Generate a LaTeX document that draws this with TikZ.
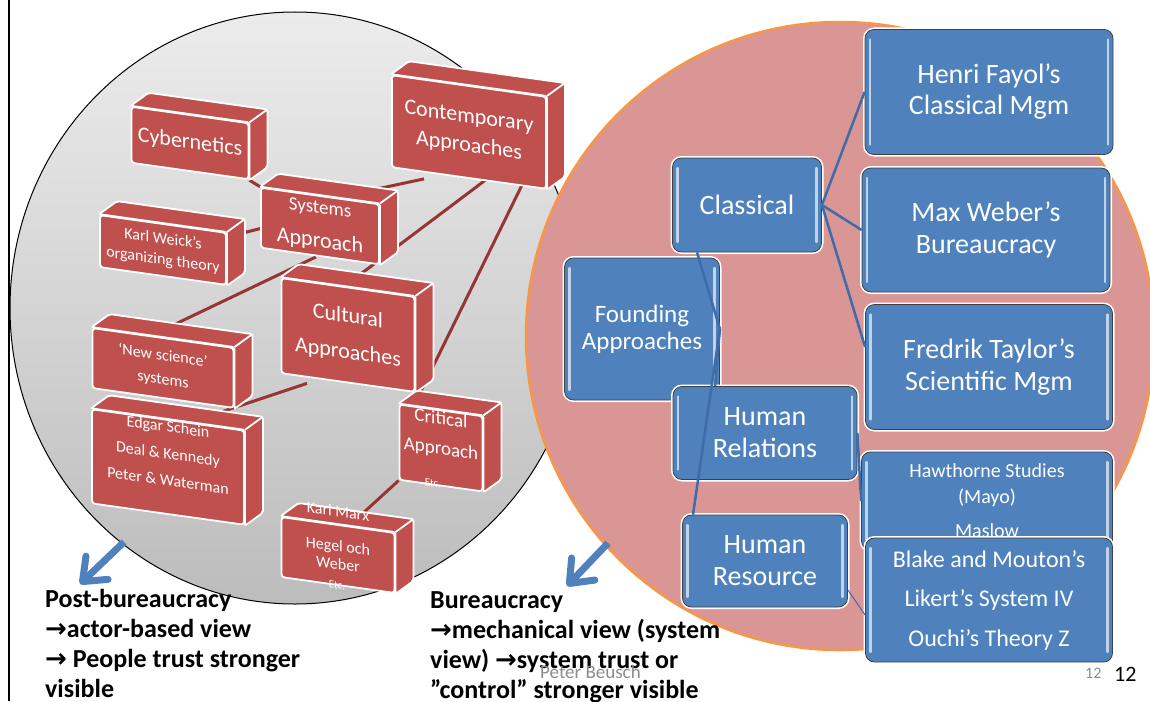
\documentclass[tikz,border=0pt]{standalone}
\usepackage{fontspec}
\setmainfont{Carlito}
\newfontfamily\arrowfont{DejaVu Sans}
\usetikzlibrary{arrows.meta,calc}

\definecolor{boxred}{RGB}{192,80,77}
\definecolor{linkred}{RGB}{150,54,52}
\definecolor{boxblue}{RGB}{79,129,189}
\definecolor{linkblue}{RGB}{62,108,168}
\definecolor{rosefill}{RGB}{217,150,148}
\definecolor{roseedge}{RGB}{247,150,70}
\definecolor{greytop}{RGB}{236,236,236}
\definecolor{greybot}{RGB}{188,188,188}
\definecolor{footgrey}{RGB}{140,140,140}

\pgfdeclarelayer{ground}
\pgfdeclarelayer{links}
\pgfdeclarelayer{sides}
\pgfsetlayers{ground,links,sides,main}

\tikzset{
  redbox/.style={fill=boxred, draw=white, line width=1.8pt, rounded corners=3pt,
    text=white, align=center, yslant=-0.14, inner sep=1pt},
  redtext/.style={text=white, align=center, yslant=-0.14, inner sep=0pt},
  redlink/.style={draw=linkred, line width=3pt},
  bluebox/.style={fill=boxblue, draw=black!75, line width=0.8pt, rounded corners=9pt,
    text=white, align=center, inner sep=2pt,
    preaction={draw=white, line width=4pt},
    path picture={\draw[white!65!boxblue, line width=2.2pt, line cap=round]
      ([xshift=5pt,yshift=-10pt]path picture bounding box.north west) -- ([xshift=5pt,yshift=10pt]path picture bounding box.south west)
      ([xshift=-5pt,yshift=-10pt]path picture bounding box.north east) -- ([xshift=-5pt,yshift=10pt]path picture bounding box.south east);}},
  bluelink/.style={draw=linkblue, line width=2.5pt},
  notetext/.style={anchor=north west, inner sep=0pt, align=left, font=\bfseries\fontsize{26}{30}\selectfont},
  bigarrow/.style={draw=boxblue, line width=7pt, -{Straight Barb[length=20pt,width=32pt,round]}}
}

% top and right face of a red block
\newcommand{\boxsides}[1]{%
  \begin{pgfonlayer}{sides}
  \filldraw[fill=boxred, draw=white, line width=1.8pt, rounded corners=2pt]
    (#1.north west) -- ++(18,-13) -- ($(#1.north east)+(18,-13)$)
    -- ($(#1.south east)+(18,-13)$) -- (#1.south east) -- (#1.north east) -- cycle;
  \draw[white, line width=1.8pt] (#1.north east) -- ++(18,-13);
  \end{pgfonlayer}}

\begin{document}
\begin{tikzpicture}[x=1pt,y=-1pt]
\useasboundingbox (0,0) rectangle (1150,701);
\begin{pgfonlayer}{ground}
\fill[white] (0,0) rectangle (1150,701);
\shade[top color=greytop,bottom color=greybot] (295,308) ellipse [x radius=285,y radius=296];
\draw[line width=1pt] (295,308) ellipse [x radius=285,y radius=296];
\filldraw[fill=rosefill,draw=roseedge,line width=2.5pt] (840,336) circle [radius=314];
\end{pgfonlayer}
\draw[line width=1.5pt] (9,0) -- (9,701);

% post-bureaucracy blocks
\node[redbox,minimum width=154pt,minimum height=92pt,font=\fontsize{22}{29}\selectfont] (cont) at (469,132) {Contemporary\\Approaches};
\boxsides{cont}
\node[redbox,minimum width=117pt,minimum height=56pt,font=\fontsize{22}{26}\selectfont] (cyb) at (190,143) {Cybernetics};
\boxsides{cyb}
\node[redbox,minimum width=118pt,minimum height=60pt,font=\fontsize{22}{28}\selectfont] (sys) at (320,226) {{\fontsize{19}{19}\selectfont Systems}\\[6pt]Approach};
\boxsides{sys}
\node[redbox,minimum width=126pt,minimum height=52pt,font=\fontsize{16}{21}\selectfont] (weick) at (163,250) {Karl Weick’s\\organizing theory};
\boxsides{weick}
\node[redbox,minimum width=133pt,minimum height=95pt,font=\fontsize{22}{36}\selectfont] (cult) at (348,335) {Cultural\\Approaches};
\boxsides{cult}
\node[redbox,minimum width=141pt,minimum height=60pt,font=\fontsize{16}{24}\selectfont] (newsci) at (163,368) {‘New science’\\systems};
\boxsides{newsci}
\node[redbox,minimum width=152pt,minimum height=93pt,font=\fontsize{16}{27}\selectfont] (schein) at (168,467) {Edgar Schein\\Deal \& Kennedy\\Peter \& Waterman\\\mbox{}};
\boxsides{schein}
\node[redbox,minimum width=83pt,minimum height=52pt,font=\fontsize{19}{30}\selectfont] (crit) at (441,448) {Critical\\Approach\\\mbox{}};
\boxsides{crit}
\node[redbox,minimum width=113pt,minimum height=60pt,font=\fontsize{16}{18}\selectfont] (marx) at (338,555) {Hegel och\\Weber};
\boxsides{marx}
\node[redtext,font=\fontsize{16}{16}\selectfont] (marxtop) at ($(marx.north)+(0,-13)$) {Karl Marx};
\node[redtext,font=\fontsize{11}{11}\selectfont] (critetc) at (433,483) {Etc.};
\node[redtext,font=\fontsize{11}{11}\selectfont] (marxetc) at (337,585) {Etc.};

\begin{pgfonlayer}{links}
\draw[redlink] ([xshift=-45pt]cont.south) -- ([xshift=28pt]sys.north);
\draw[redlink] ([xshift=18pt]cont.south) -- ([xshift=-4pt]cult.north);
\draw[redlink] ([xshift=56pt]cont.south) -- ([xshift=-29pt]crit.north);
\draw[redlink] (sys.north west) -- (cyb.south east);
\draw[redlink] ([yshift=-11pt]sys.west) -- ([yshift=22pt]weick.east);
\draw[redlink] ([xshift=-4pt]sys.south) -- ([xshift=-15pt]newsci.north);
\draw[redlink] ([xshift=-41pt]cult.south) -- ([xshift=32pt]schein.north);
\draw[redlink] (crit.south west) -- ([xshift=13pt]marx.north);
\end{pgfonlayer}

% bureaucracy tree
\node[bluebox,minimum width=248pt,minimum height=125pt,font=\fontsize{28}{31}\selectfont] (henri) at (989,92) {Henri Fayol’s\\Classical Mgm};
\node[bluebox,minimum width=248pt,minimum height=124pt,font=\fontsize{28}{32}\selectfont] (weber) at (986,230) {Max Weber’s\\Bureaucracy};
\node[bluebox,minimum width=247pt,minimum height=125pt,font=\fontsize{28}{32}\selectfont] (taylor) at (989,367) {Fredrik Taylor’s\\Scientific Mgm};
\node[bluebox,minimum width=149pt,minimum height=94pt,font=\fontsize{28}{31}\selectfont] (classical) at (747,205) {Classical};
\node[bluebox,minimum width=155pt,minimum height=142pt,font=\fontsize{25}{27}\selectfont] (founding) at (642,329) {Founding\\Approaches};
\node[bluebox,minimum width=184pt,minimum height=93pt,font=\fontsize{28}{32}\selectfont] (relations) at (765,433) {Human\\Relations};
\node[bluebox,minimum width=251pt,minimum height=98pt,font=\fontsize{20}{26}\selectfont] (hawthorne) at (987,501) {Hawthorne Studies\\(Mayo)\\[8pt]Maslow};
\node[bluebox,minimum width=165pt,minimum height=92pt,font=\fontsize{28}{32}\selectfont] (resource) at (765,561) {Human\\Resource};
\node[bluebox,minimum width=247pt,minimum height=124pt,font=\fontsize{24}{39.5}\selectfont] (blake) at (989,600) {Blake and Mouton’s\\Likert’s System IV\\Ouchi’s Theory Z};

\draw[bluelink] (classical.east) -- (henri.west);
\draw[bluelink] (classical.east) -- (weber.west);
\draw[bluelink] (classical.east) -- ([yshift=20pt]taylor.west);
\draw[bluelink] (founding.east) -- ([xshift=-50pt]classical.south);
\draw[bluelink] (founding.east) -- ([xshift=-50pt]relations.north);
\draw[bluelink] (founding.east) -- ([xshift=-72pt]resource.north);
\draw[bluelink] (relations.east) -- (hawthorne.west);
\draw[bluelink,line width=1pt] ([yshift=-29pt]resource.east) -- ([yshift=-15pt]blake.west);

% views
\coordinate (postfrom) at (124,542);
\coordinate (posttip) at (80,584);
\coordinate (burfrom) at (608,543);
\coordinate (burtip) at (567,586);
\draw[bigarrow] (postfrom) -- (posttip);
\draw[bigarrow] (burfrom) -- (burtip);
\node[notetext] (postnote) at (45,589) {Post-bureaucracy\\{\arrowfont →}actor-based view\\{\arrowfont →} People trust stronger\\visible};
\node[notetext] (burnote) at (430,591) {Bureaucracy\\{\arrowfont →}mechanical view (system\\view) {\arrowfont →}system trust or\\”control” stronger visible};

\node[anchor=base west,inner sep=0pt,text=footgrey,font=\fontsize{19}{19}\selectfont] (author) at (540,678) {Peter Beusch};
\node[anchor=base west,inner sep=0pt,text=footgrey,font=\fontsize{16}{16}\selectfont] (pagegrey) at (1085,678) {12};
\node[anchor=base west,inner sep=0pt,font=\fontsize{22}{22}\selectfont] (pageno) at (1114,681) {12};
\end{tikzpicture}
\end{document}
